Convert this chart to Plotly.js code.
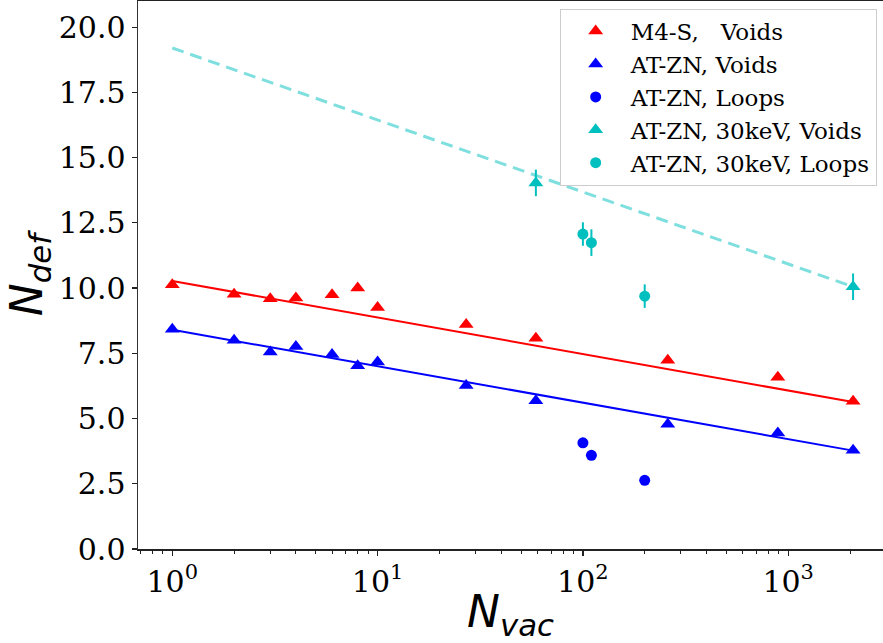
<!DOCTYPE html>
<html>
<head>
<meta charset="utf-8">
<script src="https://cdn.plot.ly/plotly-3.0.1.min.js"></script>
<style>html,body{margin:0;padding:0;background:#fff;}#chart{width:883px;height:643px;}</style>
</head>
<body>
<div id="chart"></div>
<script>
// ---- data ----
const nvacVoids = [1, 2, 3, 4, 6, 8, 10, 27, 59, 259, 890, 2070];
const ndefM4SVoids = [10.13, 9.76, 9.59, 9.62, 9.74, 10.0, 9.25, 8.6, 8.08, 7.23, 6.58, 5.66];
const ndefATZNVoids = [8.42, 8.0, 7.55, 7.76, 7.45, 7.02, 7.17, 6.27, 5.68, 4.78, 4.45, 3.78];
const nvacLoops = [100, 110, 200];
const ndefATZNLoops = [4.07, 3.59, 2.63];
const nvac30Voids = [59, 2070];
const ndef30Voids = [14.03, 10.05];
const err30Voids = [0.51, 0.51];
const ndef30Loops = [12.07, 11.74, 9.69];
const err30Loops = [0.45, 0.51, 0.45];
const fitX = [1, 2070];
const fitM4S = [10.27, 5.63];
const fitATZN = [8.40, 3.77];
const fit30 = [19.2, 10.05];
const xTickVals = [1, 10, 100, 1000];
const xTickText = ['10<sup>0</sup>', '10<sup>1</sup>', '10<sup>2</sup>', '10<sup>3</sup>'];
const seriesNames = ['M4-S,   Voids', 'AT-ZN, Voids', 'AT-ZN, Loops', 'AT-ZN, 30keV, Voids', 'AT-ZN, 30keV, Loops'];

// minor tick positions on the log axis (2..9 per decade)
const minorVals = [];
for (let d = -1; d <= 3; d++) for (let k = 2; k <= 9; k++) minorVals.push(k * Math.pow(10, d));

const RED = '#ff0000', BLUE = '#0000ff', CYAN = '#00bfbf', CYANL = 'rgba(0,191,191,0.5)';

const traces = [
  {x: fitX, y: fitM4S, mode: 'lines', line: {color: RED, width: 2}, showlegend: false, hoverinfo: 'skip'},
  {x: fitX, y: fitATZN, mode: 'lines', line: {color: BLUE, width: 2}, showlegend: false, hoverinfo: 'skip'},
  {x: fitX, y: fit30, mode: 'lines', line: {color: CYANL, width: 3, dash: '12px,7px'}, showlegend: false, hoverinfo: 'skip'},
  {x: nvacVoids, y: ndefM4SVoids, mode: 'markers', name: seriesNames[0],
   marker: {symbol: 'triangle-up', size: 13, color: RED}},
  {x: nvacVoids, y: ndefATZNVoids, mode: 'markers', name: seriesNames[1],
   marker: {symbol: 'triangle-up', size: 13, color: BLUE}},
  {x: nvacLoops, y: ndefATZNLoops, mode: 'markers', name: seriesNames[2],
   marker: {symbol: 'circle', size: 11, color: BLUE}},
  {x: nvac30Voids, y: ndef30Voids, mode: 'markers', name: seriesNames[3],
   marker: {symbol: 'triangle-up', size: 13, color: CYAN},
   error_y: {type: 'data', array: err30Voids, visible: true, color: CYAN, thickness: 2, width: 0}},
  {x: nvacLoops, y: ndef30Loops, mode: 'markers', name: seriesNames[4],
   marker: {symbol: 'circle', size: 11, color: CYAN},
   error_y: {type: 'data', array: err30Loops, visible: true, color: CYAN, thickness: 2, width: 0}}
];

const layout = {
  width: 883, height: 643,
  margin: {l: 138, r: 0, t: 1, b: 94},
  paper_bgcolor: '#fff', plot_bgcolor: '#fff',
  showlegend: true,
  xaxis: {
    type: 'log', range: [-0.167, 3.4617], autorange: false,
    showgrid: false, zeroline: false,
    showline: true, linecolor: '#222', linewidth: 1.5, mirror: true,
    ticks: 'outside', ticklen: 5, tickwidth: 1.2, tickcolor: '#222',
    tickmode: 'array', tickvals: xTickVals, ticktext: xTickText,
    tickfont: {family: 'DejaVu Serif', size: 30, color: '#000'},
    minor: {tickmode: 'array', tickvals: minorVals, ticks: 'outside', ticklen: 3, tickwidth: 1, tickcolor: '#222', showgrid: false},
    title: {text: '<i>N</i><sub><i>vac</i></sub>', font: {family: 'DejaVu Sans', size: 44, color: '#000'}, standoff: 4}
  },
  yaxis: {
    range: [0, 21.0], autorange: false,
    automargin: true,
    showgrid: false, zeroline: false,
    showline: true, linecolor: '#333', linewidth: 1.5, mirror: false,
    ticks: 'outside', ticklen: 5, tickwidth: 1.2, tickcolor: '#222',
    tickmode: 'linear', tick0: 0, dtick: 2.5, tickformat: '.1f',
    tickfont: {family: 'DejaVu Serif', size: 30, color: '#000'},
    title: {text: '<i>N</i><sub><i>def</i></sub>', font: {family: 'DejaVu Sans', size: 44, color: '#000'}, standoff: 2}
  },
  legend: {
    x: 0.9915, xanchor: 'right', y: 0.986, yanchor: 'top',
    bgcolor: 'rgba(255,255,255,0.85)', bordercolor: '#cccccc', borderwidth: 1,
    font: {family: 'DejaVu Serif', size: 23, color: '#000'},
    itemwidth: 60, tracegroupgap: 0
  }
};

Plotly.newPlot('chart', traces, layout, {staticPlot: true, displayModeBar: false});
</script>
</body>
</html>
